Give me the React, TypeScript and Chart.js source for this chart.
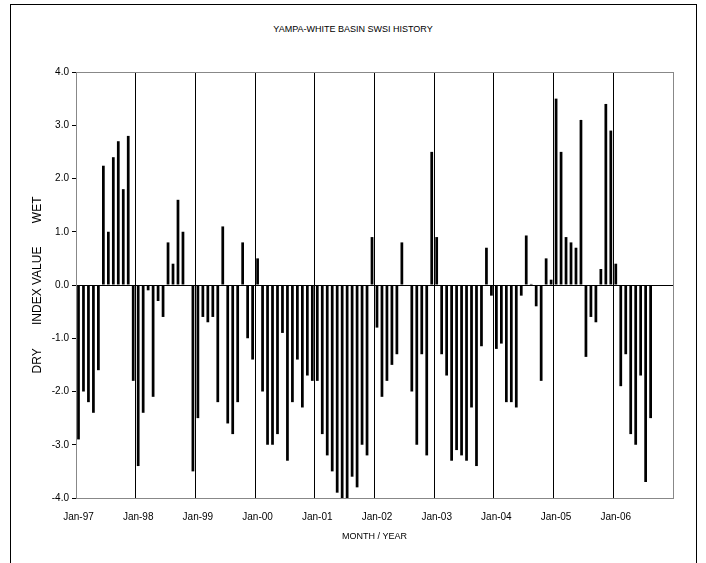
import Chart from "chart.js/auto";
import { useRef, useEffect } from "react";

const startYear = 1997;
const monthCount = 120;

// SWSI index, monthly from Jan-97 to Aug-06
const swsiValues: number[] = [
  -2.9, -2.0, -2.2, -2.4, -1.6, 2.24, 1.0, 2.4, 2.7, 1.8, 2.8, -1.8,
  -3.4, -2.4, -0.1, -2.1, -0.3, -0.6, 0.8, 0.4, 1.6, 1.0, 0, -3.5,
  -2.5, -0.6, -0.7, -0.6, -2.2, 1.1, -2.6, -2.8, -2.2, 0.8, -1.0, -1.4,
  0.5, -2.0, -3.0, -3.0, -2.8, -0.9, -3.3, -2.2, -1.4, -2.3, -1.7, -1.8,
  -1.8, -2.8, -3.2, -3.5, -3.9, -4.0, -4.05, -3.6, -3.8, -3.0, -3.2, 0.9,
  -0.8, -2.1, -1.8, -1.5, -1.3, 0.8, 0, -2.0, -3.0, -1.3, -3.2, 2.5,
  0.9, -1.3, -1.7, -3.3, -3.1, -3.2, -3.3, -2.3, -3.4, -1.15, 0.7, -0.2,
  -1.2, -1.1, -2.2, -2.2, -2.3, -0.2, 0.93, 0.02, -0.4, -1.8, 0.5, 0.1,
  3.5, 2.5, 0.9, 0.8, 0.7, 3.1, -1.35, -0.6, -0.7, 0.3, 3.4, 2.9,
  0.4, -1.9, -1.3, -2.8, -3.0, -1.7, -3.7, -2.5,
];

const monthNames = ["Jan", "Feb", "Mar", "Apr", "May", "Jun", "Jul", "Aug", "Sep", "Oct", "Nov", "Dec"];
const monthLabels: string[] = [];
for (let i = 0; i < monthCount; i++) {
  const yr = (startYear + Math.floor(i / 12)) % 100;
  monthLabels.push(`${monthNames[i % 12]}-${String(yr).padStart(2, "0")}`);
}
const seriesData: (number | null)[] = monthLabels.map((_, i) =>
  i < swsiValues.length ? swsiValues[i] : null
);

const frame = {
  id: "frame",
  afterDraw(chart: Chart) {
    const { ctx, chartArea: a } = chart;
    ctx.save();
    ctx.strokeStyle = "#888";
    ctx.lineWidth = 1;
    ctx.strokeRect(a.left + 0.5, a.top + 0.5, a.right - a.left, a.bottom - a.top);
    ctx.restore();
  },
};

const App: React.FC = () => {
  const chartRef = useRef<HTMLCanvasElement>(null);
  const chartInstance = useRef<Chart>();

  useEffect(() => {
    document.body.style.margin = "0";
    if (!chartRef.current) return;
    const ctx = chartRef.current.getContext("2d");
    if (!ctx) return;
    chartInstance.current = new Chart(ctx, {
      type: "bar",
      data: {
        labels: monthLabels,
        datasets: [
          {
            data: seriesData,
            backgroundColor: "#000",
            barPercentage: 0.55,
            categoryPercentage: 1,
          },
        ],
      },
      options: {
        animation: false,
        responsive: false,
        layout: { padding: { top: 72, right: 33, left: 0, bottom: 0 } },
        plugins: { legend: { display: false }, tooltip: { enabled: false } },
        scales: {
          x: {
            offset: true,
            afterFit: (s: any) => {
              s.height = 65;
            },
            grid: {
              offset: true,
              tickLength: 0,
              color: (c: any) => (c.index % 12 === 0 ? "#000" : "rgba(0,0,0,0)"),
            },
            border: { display: false },
            ticks: {
              autoSkip: false,
              maxRotation: 0,
              color: "#000",
              font: { family: "Liberation Sans", size: 10 },
              padding: 13,
              callback: (_v: any, i: number) => (i % 12 === 0 ? monthLabels[i] : ""),
            },
            title: {
              display: true,
              text: "MONTH / YEAR",
              color: "#000",
              font: { family: "Liberation Sans", size: 9 },
              padding: { top: 4, bottom: 21 },
            },
          },
          y: {
            min: -4,
            max: 4,
            afterFit: (s: any) => {
              s.width = 76;
            },
            grid: {
              color: (c: any) => (c.tick && c.tick.value === 0 ? "#000" : "rgba(0,0,0,0)"),
              tickColor: "#000",
              tickLength: 4,
            },
            border: { display: true, color: "#000" },
            ticks: {
              stepSize: 1,
              color: "#000",
              font: { family: "Liberation Sans", size: 10 },
              padding: 3,
              callback: (v: any) => Number(v).toFixed(1),
            },
            title: {
              display: true,
              text: "DRY       INDEX VALUE       WET",
              color: "#000",
              font: { family: "Liberation Sans", size: 12 },
              padding: { top: 30, bottom: 6 },
            },
          },
        },
      },
      plugins: [frame],
    });
    return () => {
      chartInstance.current?.destroy();
    };
  }, []);

  return (
    <div style={{ position: "relative", width: 706, height: 563 }}>
      <div
        style={{
          position: "absolute",
          left: 10,
          top: 4,
          width: 687,
          height: 600,
          border: "1px solid #000",
          boxSizing: "border-box",
        }}
      />
      <div
        style={{
          position: "absolute",
          top: 24,
          width: 706,
          textAlign: "center",
          font: "9px 'Liberation Sans'",
          color: "#000",
        }}
      >
        YAMPA-WHITE BASIN SWSI HISTORY
      </div>
      <canvas ref={chartRef} width={706} height={563} style={{ position: "absolute", left: 0, top: 0 }} />
    </div>
  );
};

export default App;
